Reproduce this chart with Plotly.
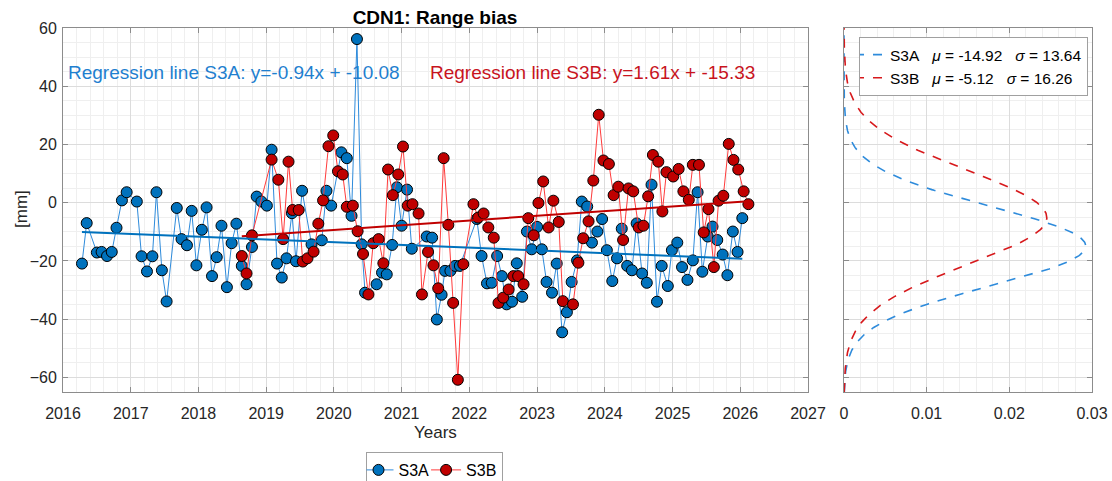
import plotly.graph_objects as go
import numpy as np

# ---------------- data ----------------
s3a_t = [2016.28, 2016.35, 2016.50, 2016.57, 2016.65, 2016.72, 2016.79, 2016.87, 2016.94, 2017.09,
         2017.16, 2017.24, 2017.32, 2017.38, 2017.46, 2017.53, 2017.68, 2017.75, 2017.83, 2017.90,
         2017.97, 2018.05, 2018.12, 2018.20, 2018.27, 2018.34, 2018.42, 2018.49, 2018.56, 2018.64,
         2018.71, 2018.79, 2018.86, 2018.93, 2019.01, 2019.08, 2019.16, 2019.23, 2019.30, 2019.38,
         2019.44, 2019.53, 2019.67, 2019.82, 2019.89, 2019.96, 2020.11, 2020.19, 2020.26, 2020.34,
         2020.41, 2020.46, 2020.63, 2020.71, 2020.78, 2020.86, 2020.93, 2021.00, 2021.08, 2021.15,
         2021.37, 2021.45, 2021.52, 2021.59, 2021.64, 2021.72, 2021.79, 2021.86, 2022.11, 2022.18,
         2022.26, 2022.33, 2022.41, 2022.48, 2022.55, 2022.63, 2022.70, 2022.78, 2022.85, 2022.92,
         2023.00, 2023.07, 2023.14, 2023.22, 2023.29, 2023.37, 2023.44, 2023.51, 2023.59, 2023.66,
         2023.74, 2023.81, 2023.89, 2023.96, 2024.03, 2024.11, 2024.18, 2024.25, 2024.33, 2024.40,
         2024.47, 2024.55, 2024.62, 2024.69, 2024.77, 2024.84, 2024.93, 2024.99, 2025.07, 2025.14,
         2025.22, 2025.30, 2025.37, 2025.44, 2025.52, 2025.59, 2025.66, 2025.74, 2025.81, 2025.89,
         2025.96, 2026.03]
s3a_v = [-20.9, -7.0, -17.1, -16.9, -18.3, -16.9, -8.6, 0.8, 3.6, 0.4,
         -18.4, -23.6, -18.4, 3.6, -23.2, -33.9, -1.8, -12.5, -14.6, -2.8,
         -21.5, -9.3, -1.6, -25.2, -18.7, -7.9, -29.0, -13.9, -7.2, -21.7,
         -28.0, -15.2, 2.1, 0.4, -1.0, 18.2, -20.9, -25.7, -19.1, -3.6,
         -20.1, 4.1, -14.3, -12.9, 4.1, -1.0, 17.3, 15.3, -4.5, 56.2,
         -14.3, -30.9, -28.0, -24.0, -24.6, -14.5, 5.3, -7.9, 4.5, -15.8,
         -11.6, -12.0, -40.1, -31.6, -23.4, -23.4, -21.7, -21.7, -5.6, -18.3,
         -27.7, -27.5, -18.3, -25.2, -34.9, -34.0, -20.8, -32.3, -9.9, -16.0,
         -8.3, -16.0, -27.2, -30.9, -20.9, -44.5, -37.6, -27.2, -19.8, 0.4,
         -1.3, -13.7, -9.9, -5.6, -16.3, -26.9, -19.1, -8.9, -21.7, -23.2,
         -7.1, -24.3, -27.5, 6.2, -34.0, -21.7, -28.6, -16.3, -13.7, -22.1,
         -26.5, -19.8, 3.6, -23.7, -11.6, -8.2, -12.8, -17.8, -24.9, -9.9,
         -16.9, -5.3]

s3b_t = [2018.64, 2018.71, 2018.79, 2019.08, 2019.18, 2019.25, 2019.33, 2019.39, 2019.48, 2019.54,
         2019.61, 2019.70, 2019.77, 2019.84, 2019.92, 2019.99, 2020.06, 2020.13, 2020.19, 2020.28,
         2020.35, 2020.43, 2020.51, 2020.58, 2020.66, 2020.73, 2020.80, 2020.87, 2020.95, 2021.02,
         2021.09, 2021.16, 2021.25, 2021.30, 2021.39, 2021.47, 2021.54, 2021.62, 2021.69, 2021.76,
         2021.83, 2021.91, 2022.06, 2022.13, 2022.21, 2022.28, 2022.36, 2022.43, 2022.50, 2022.58,
         2022.65, 2022.72, 2022.80, 2022.87, 2022.95, 2023.02, 2023.09, 2023.17, 2023.24, 2023.32,
         2023.38, 2023.53, 2023.61, 2023.68, 2023.76, 2023.83, 2023.91, 2023.98, 2024.06, 2024.13,
         2024.20, 2024.27, 2024.35, 2024.42, 2024.50, 2024.57, 2024.64, 2024.71, 2024.79, 2024.85,
         2024.91, 2025.01, 2025.09, 2025.16, 2025.24, 2025.30, 2025.39, 2025.46, 2025.53, 2025.61,
         2025.68, 2025.75, 2025.83, 2025.90, 2025.97, 2026.05, 2026.12]
s3b_v = [-18.3, -24.3, -11.2, 14.8, 7.9, -12.5, 14.1, -2.5, -2.5, -20.2,
         -19.1, -16.8, -7.2, 0.8, 19.4, 23.1, 10.8, 9.7, -1.4, -1.0,
         -9.8, -17.6, -31.5, -13.9, -12.5, -20.8, 11.4, 2.6, 9.7, 19.3,
         -1.0, -0.5, -3.7, -31.5, -16.9, -21.5, -29.4, 15.3, -7.6, -34.4,
         -60.8, -21.1, -0.5, -5.1, -3.7, -8.5, -12.0, -34.4, -32.6, -29.8,
         -25.2, -25.2, -28.0, -5.3, -11.2, -0.1, 7.3, -8.5, 0.7, -6.6,
         -33.8, -34.9, -20.6, -12.2, -6.4, 7.6, 30.2, 14.5, 13.3, 2.6,
         5.5, -12.8, 4.9, 3.9, -8.5, -7.9, 2.2, 16.4, 14.1, -3.0,
         10.5, 9.0, 11.6, 3.9, 1.0, 13.0, 13.0, -10.2, -2.2, -22.1,
         0.7, 2.4, 20.2, 14.7, 11.4, 3.9, -0.5]

series_names = ["S3A", "S3B"]
reg_slope = [-0.94, 1.61]
reg_intercept = [-10.08, -15.33]
reg_t0 = 2016.28  # regression x measured in years from first S3A epoch
stat_mu = [-14.92, -5.12]
stat_sigma = [13.64, 16.26]

x_ticks = list(range(2016, 2028))
y_ticks = [-60, -40, -20, 0, 20, 40, 60]
pdf_ticks = [0, 0.01, 0.02, 0.03]

# ---------------- styles ----------------
C_BLUE = "#0072BD"
C_BLUE_LINE = "#2E8BDB"
C_RED = "#C00000"
C_RED_LINE = "#FF3B3B"
FONT = "Liberation Sans, Arial, Helvetica, sans-serif"
GRID = "#DCDCDC"
MGRID = "#EFEFEF"
AXC = "#8C8C8C"
TXT = "#262626"

W, H = 1112, 481
L, R, T, B = 63, 20, 28, 89
pw = W - L - R
ph = H - T - B
main_end = (808 - L) / pw
side_start = (844 - L) / pw


def px_x(px):
    return (px - L) / pw


def px_y(py):
    return (H - B - py) / ph


fig = go.Figure()

fig.add_trace(go.Scatter(
    x=s3a_t, y=s3a_v, mode="lines+markers", name=series_names[0],
    line=dict(color=C_BLUE_LINE, width=1),
    marker=dict(size=11, color=C_BLUE, line=dict(color="black", width=1)),
    legend="legend", xaxis="x", yaxis="y"))
fig.add_trace(go.Scatter(
    x=s3b_t, y=s3b_v, mode="lines+markers", name=series_names[1],
    line=dict(color=C_RED_LINE, width=1),
    marker=dict(size=11, color=C_RED, line=dict(color="black", width=1)),
    legend="legend", xaxis="x", yaxis="y"))

# regression lines
for ts, col, k in [(s3a_t, C_BLUE, 0), (s3b_t, C_RED, 1)]:
    xs = [ts[0], ts[-1]]
    ys = [reg_slope[k] * (t - reg_t0) + reg_intercept[k] for t in xs]
    fig.add_trace(go.Scatter(x=xs, y=ys, mode="lines", line=dict(color=col, width=2),
                             showlegend=False, hoverinfo="skip", xaxis="x", yaxis="y"))

# distribution curves (right panel)
yy = np.linspace(-65, 60, 501)
for k, col in enumerate([C_BLUE_LINE, "#D7191C"]):
    pdf = np.exp(-0.5 * ((yy - stat_mu[k]) / stat_sigma[k]) ** 2) / (stat_sigma[k] * np.sqrt(2 * np.pi))
    label = (f"{series_names[k]}&nbsp;&nbsp;&nbsp;<i>μ</i> = {stat_mu[k]:.2f}"
             f"&nbsp;&nbsp;&nbsp;<i>σ</i> = {stat_sigma[k]:.2f}")
    fig.add_trace(go.Scatter(x=pdf, y=yy, mode="lines", name=label,
                             line=dict(color=col, width=1.6, dash="dash"),
                             legend="legend2", xaxis="x2", yaxis="y2"))

# regression text
fig.add_annotation(x=2016.05, y=44.6, xref="x", yref="y", xanchor="left", yanchor="middle",
                   text=f"Regression line {series_names[0]}: y={reg_slope[0]:.2f}x + {reg_intercept[0]:.2f}",
                   showarrow=False, font=dict(family=FONT, size=19, color="#1F7FCF"))
fig.add_annotation(x=2021.39, y=44.6, xref="x", yref="y", xanchor="left", yanchor="middle",
                   text=f"Regression line {series_names[1]}: y={reg_slope[1]:.2f}x + {reg_intercept[1]:.2f}",
                   showarrow=False, font=dict(family=FONT, size=19, color="#C8141E"))

# axis titles
fig.add_annotation(x=px_x(435), y=px_y(432), xref="paper", yref="paper", text="Years",
                   showarrow=False, xanchor="center", yanchor="middle",
                   font=dict(family=FONT, size=17, color=TXT))
fig.add_annotation(x=px_x(21), y=px_y(209), xref="paper", yref="paper", text="[mm]",
                   showarrow=False, xanchor="center", yanchor="middle", textangle=-90,
                   font=dict(family=FONT, size=17, color=TXT))

axis_common = dict(showline=True, linecolor=AXC, linewidth=1, mirror="ticks",
                   ticks="inside", ticklen=5, tickcolor=AXC, zeroline=False,
                   showgrid=True, gridcolor=GRID, gridwidth=1, automargin=False,
                   tickfont=dict(family=FONT, size=16, color=TXT))

fig.update_layout(
    width=W, height=H, margin=dict(l=L, r=R, t=T, b=B, autoexpand=False),
    paper_bgcolor="white", plot_bgcolor="white",
    font=dict(family=FONT, color=TXT),
    title=dict(text="<b>CDN1: Range bias</b>", x=435 / W, xanchor="center", xref="container",
               y=1 - 17 / H, yanchor="middle", yref="container",
               font=dict(family=FONT, size=19, color="black")),
    xaxis=dict(domain=[0, main_end], range=[2016, 2027], tickvals=x_ticks,
               minor=dict(dtick=0.2, tick0=2016, showgrid=True, gridcolor=MGRID, ticks=""),
               ticklabelstandoff=7, **axis_common),
    yaxis=dict(domain=[0, 1], range=[-65, 60], tickvals=y_ticks,
               minor=dict(dtick=5, tick0=0, showgrid=True, gridcolor=MGRID, ticks=""),
               ticklabelstandoff=2, **axis_common),
    xaxis2=dict(domain=[side_start, 1], range=[0, 0.03], tickvals=pdf_ticks,
                ticktext=["0", "0.01", "0.02", "0.03"], anchor="y2",
                minor=dict(dtick=0.002, tick0=0, showgrid=True, gridcolor=MGRID, ticks=""),
                ticklabelstandoff=7, **axis_common),
    yaxis2=dict(domain=[0, 1], range=[-65, 60], tickvals=y_ticks, anchor="x2",
                showticklabels=False,
                minor=dict(dtick=5, tick0=0, showgrid=True, gridcolor=MGRID, ticks=""),
                **axis_common),
    legend=dict(orientation="h", x=px_x(434), xanchor="center",
                y=px_y(452), yanchor="top", indentation=-8,
                bgcolor="white", bordercolor="#A0A0A0", borderwidth=1,
                font=dict(family=FONT, size=16, color="black"), itemwidth=30,
                tracegroupgap=0),
    legend2=dict(x=px_x(1088), xanchor="right", y=px_y(37), yanchor="top", indentation=-10,
                 bgcolor="white", bordercolor="#A0A0A0", borderwidth=1,
                 font=dict(family=FONT, size=15.5, color="black"), itemwidth=30,
                 tracegroupgap=0),
    showlegend=True,
)

fig.write_html("out.html", config={"displayModeBar": False},
               post_script="document.body.style.margin='0px';document.body.style.overflow='hidden';")
